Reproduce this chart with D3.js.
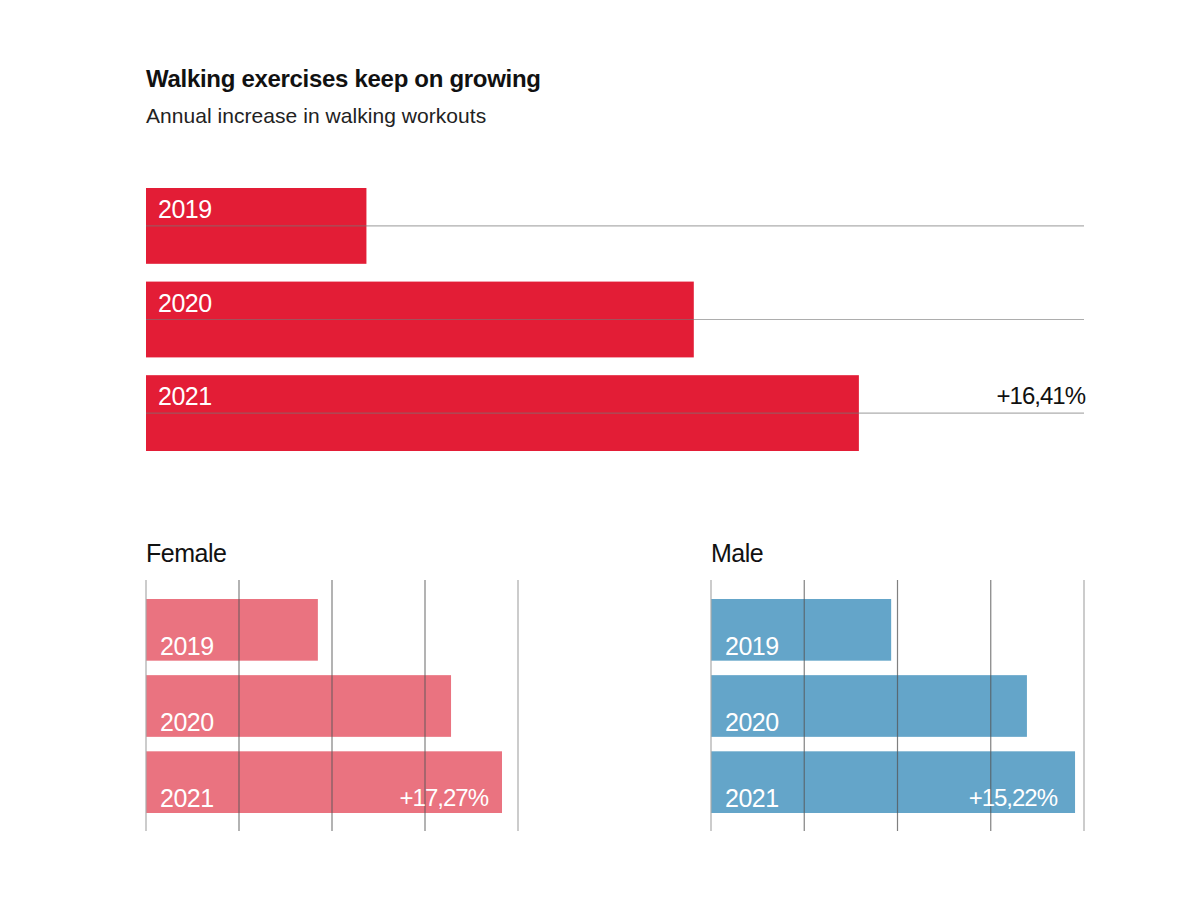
<!DOCTYPE html>
<html>
<head>
<meta charset="utf-8">
<script src="https://cdn.jsdelivr.net/npm/d3@7"></script>
<style>
  body { margin: 0; background: #fff; }
  svg { font-family: "Liberation Sans", Arial, sans-serif; }
</style>
</head>
<body>
<svg id="chart"></svg>
<script>
const width = 1200;
const height = 903;

// data (relative index, no axis shown)
const years = ["2019", "2020", "2021"];
const totalValues = [23.5, 58.4, 76.0];
const totalLabel = "+16,41%";

const femaleValues = [46.2, 82.0, 95.7];
const femaleLabel = "+17,27%";
const maleValues = [48.3, 84.7, 97.6];
const maleLabel = "+15,22%";

const gridTicks = [0, 25, 50, 75, 100];

const svg = d3.select("#chart").attr("width", width).attr("height", height);

// title
svg.append("text")
  .attr("x", 146).attr("y", 87)
  .attr("font-size", 24).attr("font-weight", 700)
  .attr("letter-spacing", -0.3)
  .attr("fill", "#111")
  .text("Walking exercises keep on growing");

svg.append("text")
  .attr("x", 146).attr("y", 123)
  .attr("font-size", 21)
  .attr("letter-spacing", 0.05)
  .attr("fill", "#222")
  .text("Annual increase in walking workouts");

// --------- top chart ---------
const xTop = d3.scaleLinear().domain([0, 100]).range([146, 1084]);
const yTop = d3.scaleBand().domain(years).range([188, 451]).paddingInner(0.19);

const topChart = svg.append("g");

topChart.selectAll("rect")
  .data(years)
  .enter()
  .append("rect")
  .attr("x", xTop(0))
  .attr("y", (d) => yTop(d))
  .attr("width", (d, i) => xTop(totalValues[i]) - xTop(0))
  .attr("height", yTop.bandwidth())
  .attr("fill", "#e31d36");

topChart.selectAll("line")
  .data(years)
  .enter()
  .append("line")
  .attr("x1", xTop(0))
  .attr("x2", xTop(100))
  .attr("y1", (d) => yTop(d) + yTop.bandwidth() / 2)
  .attr("y2", (d) => yTop(d) + yTop.bandwidth() / 2)
  .attr("stroke", "#777")
  .attr("stroke-opacity", 0.6)
  .attr("stroke-width", 1.2);

topChart.selectAll("text.year")
  .data(years)
  .enter()
  .append("text")
  .attr("class", "year")
  .attr("x", xTop(0) + 12)
  .attr("y", (d) => yTop(d) + 30)
  .attr("font-size", 25)
  .attr("letter-spacing", -0.5)
  .attr("fill", "#fff")
  .text((d) => d);

topChart.append("text")
  .attr("x", xTop(100) + 1)
  .attr("y", yTop("2021") + 29)
  .attr("text-anchor", "end")
  .attr("font-size", 24)
  .attr("letter-spacing", -1)
  .attr("fill", "#111")
  .text(totalLabel);

// --------- small charts ---------
function smallChart(x0, x1, title, values, label, color, labelGap) {
  const x = d3.scaleLinear().domain([0, 100]).range([x0, x1]);
  const y = d3.scaleBand().domain(years).range([599, 813]).paddingInner(0.19);
  const g = svg.append("g");

  g.append("text")
    .attr("x", x0).attr("y", 562)
    .attr("font-size", 25)
    .attr("letter-spacing", -0.5)
    .attr("fill", "#111")
    .text(title);

  g.selectAll("rect")
    .data(years)
    .enter()
    .append("rect")
    .attr("x", x(0))
    .attr("y", (d) => y(d))
    .attr("width", (d, i) => x(values[i]) - x(0))
    .attr("height", y.bandwidth())
    .attr("fill", color);

  g.selectAll("line")
    .data(gridTicks)
    .enter()
    .append("line")
    .attr("x1", (d) => x(d))
    .attr("x2", (d) => x(d))
    .attr("y1", 580)
    .attr("y2", 831)
    .attr("stroke", (d) => (d === 0 || d === 100 ? "#aaa" : "#555"))
    .attr("stroke-opacity", (d) => (d === 0 || d === 100 ? 1 : 0.75))
    .attr("stroke-width", 1.2);

  g.selectAll("text.year")
    .data(years)
    .enter()
    .append("text")
    .attr("class", "year")
    .attr("x", x(0) + 14)
    .attr("y", (d) => y(d) + 56)
    .attr("font-size", 25)
    .attr("letter-spacing", -0.5)
    .attr("fill", "#fff")
    .text((d) => d);

  g.append("text")
    .attr("x", x(values[2]) - labelGap)
    .attr("y", y("2021") + 55)
    .attr("text-anchor", "end")
    .attr("font-size", 24)
    .attr("letter-spacing", -1)
    .attr("fill", "#fff")
    .text(label);
}

smallChart(146, 518, "Female", femaleValues, femaleLabel, "#ea7380", 14);
smallChart(711, 1084, "Male", maleValues, maleLabel, "#64a5c9", 18);
</script>
</body>
</html>
